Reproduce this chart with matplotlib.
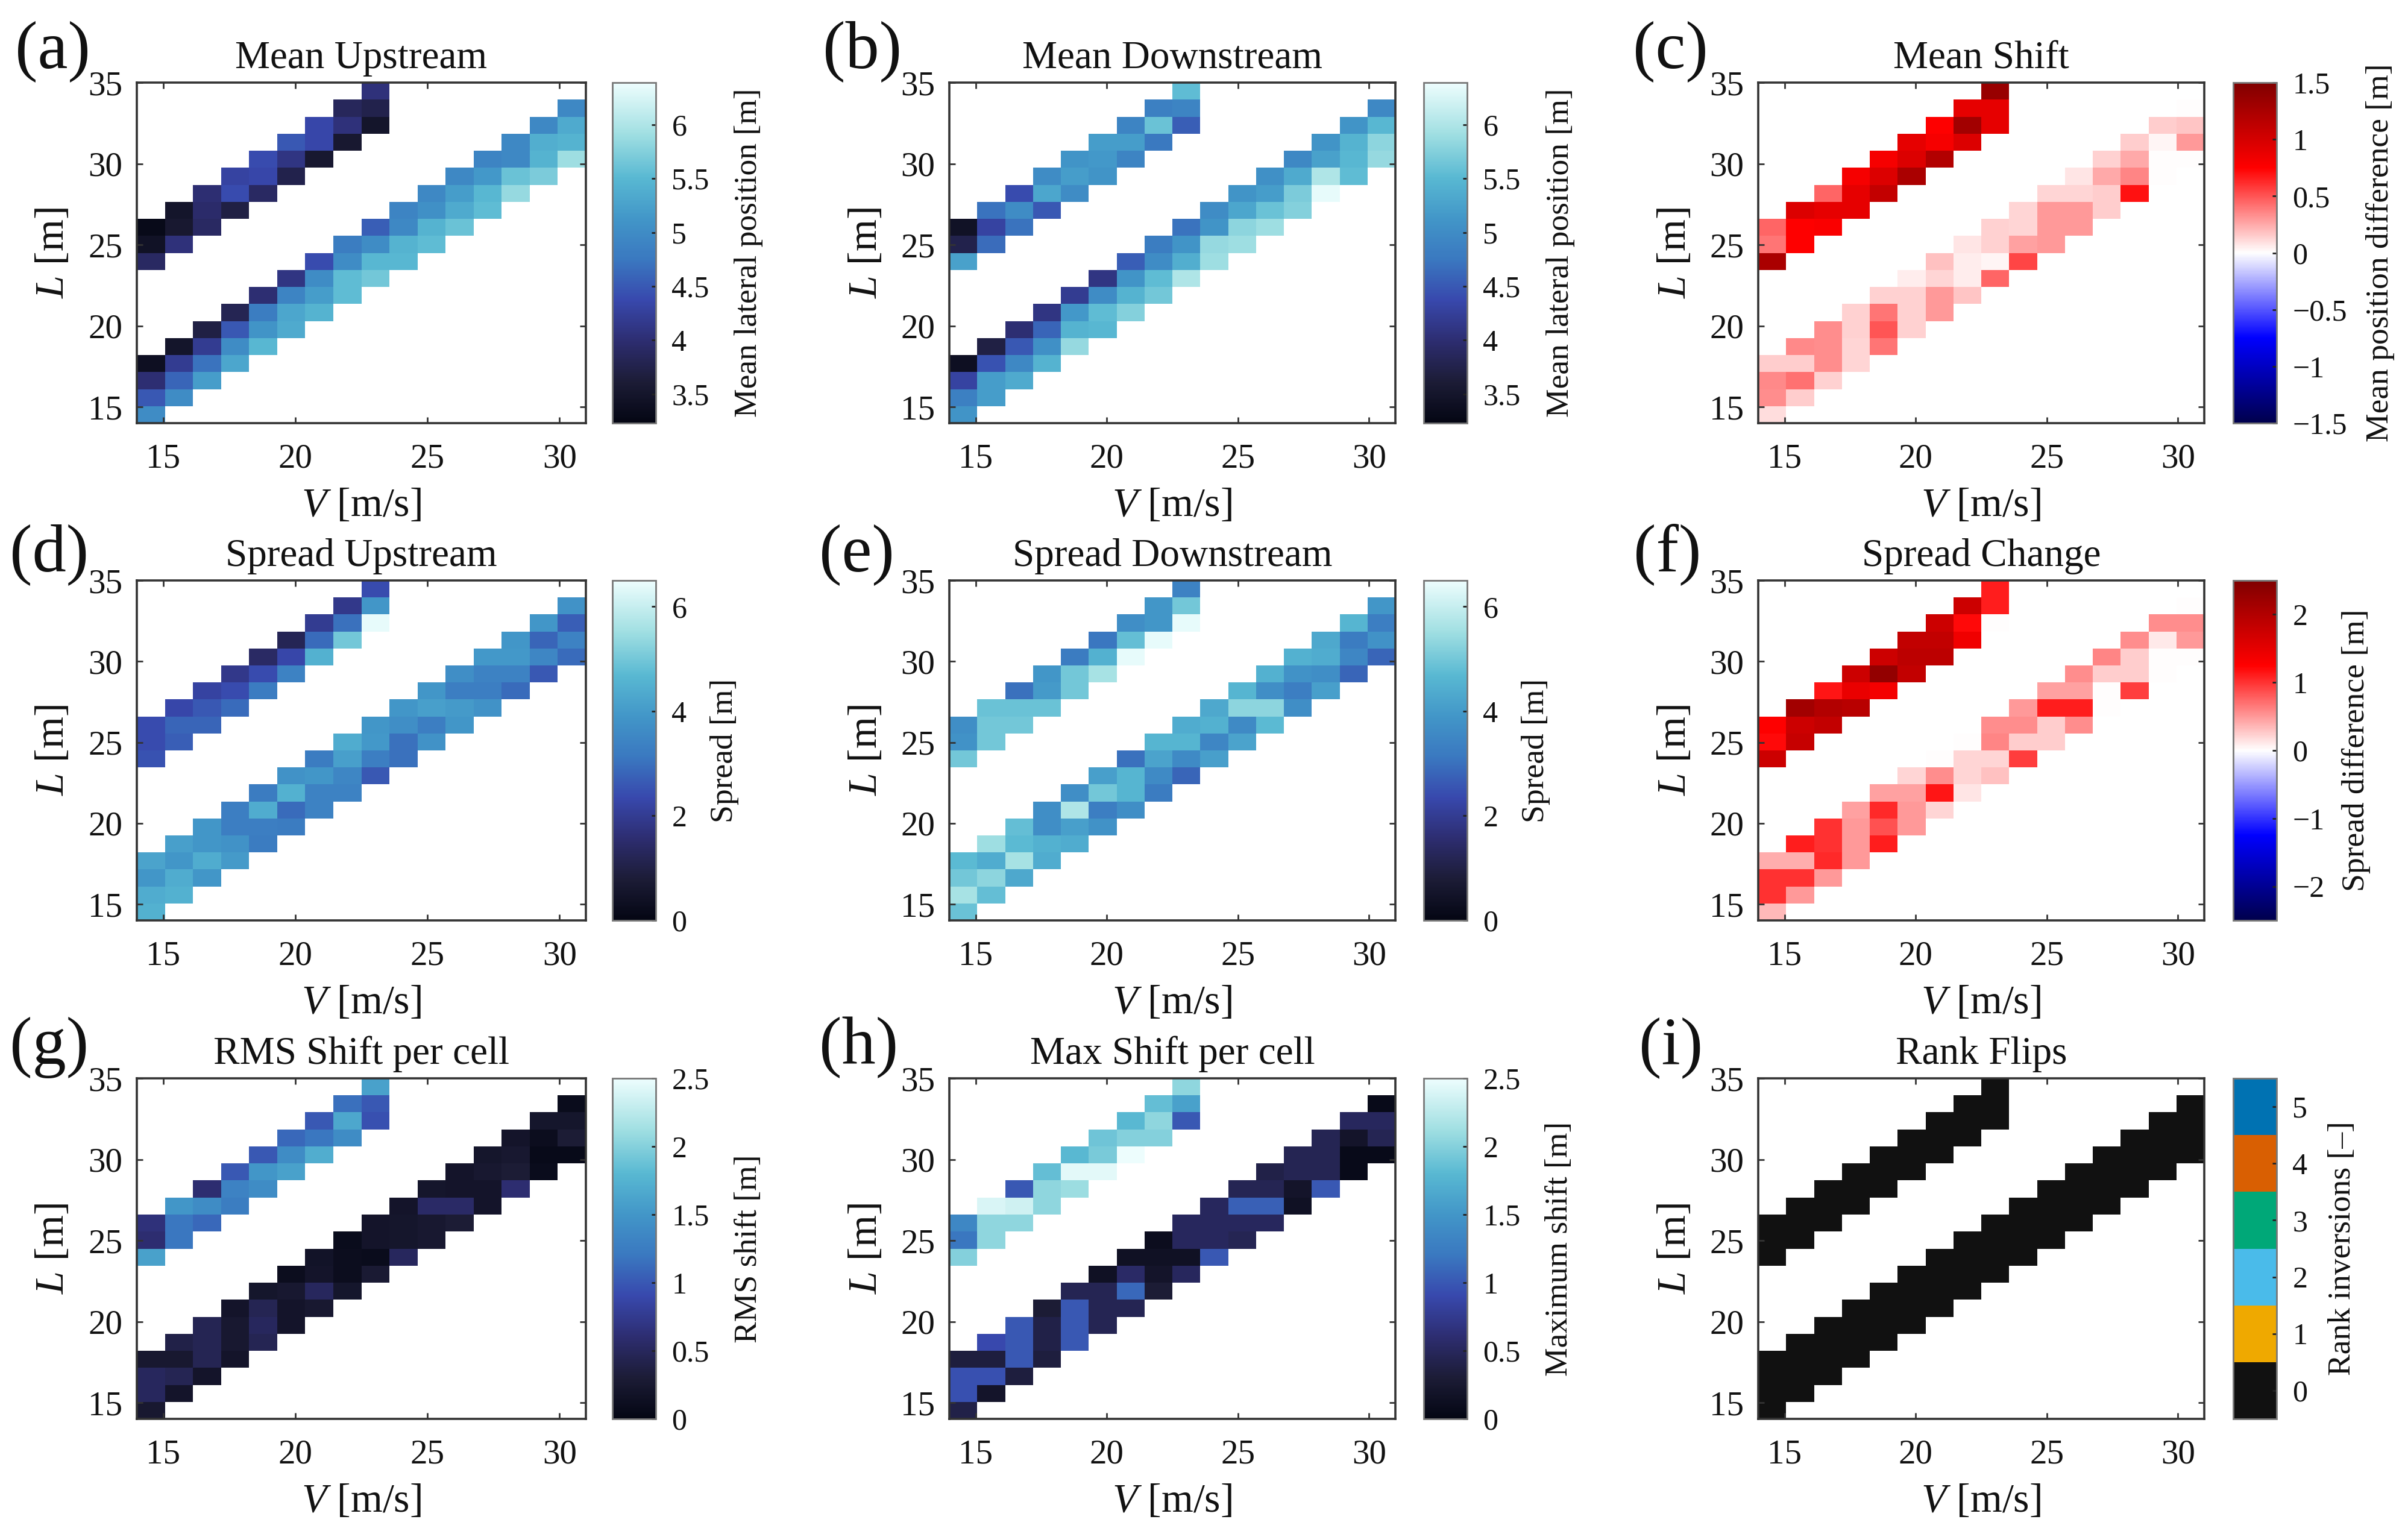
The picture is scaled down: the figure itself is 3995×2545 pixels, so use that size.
import numpy as np
import matplotlib
matplotlib.use('Agg')
import matplotlib.pyplot as plt
from matplotlib.colors import LinearSegmentedColormap, ListedColormap

plt.rcParams['font.family'] = ['Liberation Serif', 'DejaVu Serif']
plt.rcParams['mathtext.fontset'] = 'custom'
plt.rcParams['mathtext.rm'] = 'Liberation Serif'
plt.rcParams['mathtext.it'] = 'Liberation Serif:italic'

# each list is one column (V), cells from bottom to top (L)
mean_up_low = [[5.0,4.5,4.0,3.4],[5.0,4.6,4.2,3.5],[5.2,4.7,4.2,3.7],[5.3,5.0,4.5,3.8],
    [5.5,5.1,4.8,4.0],[5.35,5.3,4.9,4.1],[5.45,5.2,5.0,4.4],[5.55,5.55,5.0,4.8],
    [5.65,5.5,5.0,4.55],[5.5,5.45,4.95,4.9],[5.55,5.45,5.05,4.95],[5.6,5.35,5.2,4.95],
    [5.55,5.5,5.15,4.9],[5.85,5.6,4.95,4.95],[5.7,5.45,5.4,4.95],[5.9,5.45,5.35,4.95]]
mean_up_high = [[3.9,3.45,3.3],[4.05,3.55,3.5],[3.9,3.95,4.0],[3.7,4.4,4.3],[3.9,4.35,4.4],
    [3.75,4.1,4.5],[3.55,4.35,4.35],[3.55,4.05,3.85],[3.5,3.75,4.05]]

mean_down_low = [[5.1,4.85,4.3,3.4],[5.2,5.2,4.45,3.7],[5.35,4.95,4.5,4.0],[5.45,5.05,4.6,4.1],
    [5.85,5.45,5.15,4.2],[5.5,5.55,5.0,4.1],[5.75,5.45,5.1,4.55],[5.65,5.55,5.0,4.8],
    [6.0,5.4,5.1,4.7],[5.9,5.85,5.1,5.0],[5.9,5.8,5.3,5.1],[5.9,5.6,5.2,5.05],
    [5.75,5.7,5.35,4.95],[6.35,6.0,5.25,5.1],[5.55,5.5,5.45,5.1],[5.85,5.8,5.5,4.95]]
mean_down_high = [[5.25,3.75,3.45],[4.65,4.3,4.7],[4.7,5.0,4.4],[4.5,5.3,5.0],[5.0,5.2,5.1],
    [5.1,5.15,5.2],[4.9,5.2,4.9],[4.75,5.6,4.85],[4.55,4.9,5.55]]

mean_shift_low = [[0.1,0.33,0.35,0.15],[0.15,0.42,0.15,0.35],[0.13,0.33,0.33,0.33],[0.12,0.12,0.13,0.13],
    [0.4,0.5,0.4,0.14],[0.13,0.14,0.14,0.05],[0.3,0.3,0.12,0.18],[0.17,0.05,0.05,0.08],
    [0.45,0.03,0.13,0.13],[0.55,0.28,0.12,0.12],[0.3,0.3,0.3,0.12],[0.3,0.3,0.12,0.08],
    [0.15,0.15,0.25,0.13],[0.7,0.36,0.25,0.15],[0.0,0.0,0.03,0.15],[0.0,0.3,0.17,0.0]]
mean_shift_high = [[1.25,0.4,0.45],[0.75,0.75,0.95],[0.78,0.9,0.45],[0.9,0.9,0.8],[1.1,0.95,0.8],
    [1.25,0.95,0.9],[1.2,0.8,0.75],[0.95,1.3,0.9],[0.9,0.9,1.35]]

spread_up_low = [[4.5,4.4,3.9,4.2],[4.5,4.4,3.9,4.1],[3.9,4.4,3.9,3.9],[4.0,3.8,3.3,3.3],
    [3.2,3.3,4.4,3.2],[3.2,2.9,4.5,3.8],[3.4,3.4,3.9,3.2],[3.4,3.5,4.1,4.4],
    [2.6,3.3,3.95,3.9],[3.0,3.0,3.7,3.9],[3.8,3.3,4.1,3.9],[3.9,4.0,3.3,3.7],
    [3.8,3.3,3.4,3.95],[2.9,3.4,3.95,3.9],[2.6,3.5,2.8,3.9],[2.9,3.4,2.7,3.8]]
spread_up_high = [[2.5,2.4,2.4],[2.7,2.8,2.3],[2.8,2.6,2.2],[2.9,2.4,1.9],[3.2,2.4,1.4],
    [3.4,2.3,1.2],[4.5,2.9,2.0],[5.0,3.0,1.9],[6.4,3.9,2.4]]

spread_down_low = [[4.9,5.6,5.0,4.7],[4.8,5.3,4.4,5.5],[4.3,5.6,4.7,4.8],[4.4,4.5,3.7,3.7],
    [4.4,4.1,5.7,3.7],[3.8,3.3,5.0,4.1],[3.7,4.6,4.6,3.0],[3.2,3.6,4.2,4.6],
    [2.8,3.6,4.6,4.4],[4.1,3.5,4.5,4.3],[4.2,3.6,5.3,4.6],[4.7,5.3,3.7,4.5],
    [3.7,3.3,3.8,4.5],[4.1,3.7,4.4,4.3],[2.8,3.5,3.2,4.6],[2.8,3.8,3.3,3.9]]
spread_down_high = [[5.0,3.8,3.7],[5.0,5.0,4.9],[5.0,4.9,3.0],[4.9,4.0,3.9],[5.0,5.0,3.2],
    [5.6,4.5,3.1],[6.4,4.8,3.7],[6.4,3.9,3.9],[6.4,5.0,3.4]]

spread_chg_low = [[0.35,1.0,1.0,0.4],[0.5,1.0,0.4,1.1],[0.5,1.05,1.0,1.0],[0.5,0.5,0.5,0.45],
    [1.1,0.85,1.05,0.45],[0.5,0.5,0.45,0.2],[0.2,1.15,0.55,0.0],[0.12,0.2,0.2,0.0],
    [0.3,0.2,0.6,0.55],[0.95,0.25,0.55,0.5],[0.25,0.25,1.1,0.45],[0.55,1.1,0.45,0.55],
    [0.0,0.0,0.25,0.6],[0.95,0.25,0.25,0.55],[0.0,0.0,0.1,0.55],[0.0,0.5,0.55,0.0]]
spread_chg_high = [[1.75,1.2,1.25],[1.8,1.75,2.15],[1.85,2.0,1.15],[1.95,1.45,1.75],[1.35,2.3,1.75],
    [1.85,1.9,1.85],[1.9,1.85,1.75],[1.4,1.2,1.75],[0.0,1.1,1.1]]

rms_low = [[0.25,0.5,0.5,0.25],[0.2,0.45,0.25,0.4],[0.2,0.45,0.45,0.45],[0.2,0.25,0.25,0.2],
    [0.45,0.5,0.45,0.22],[0.2,0.2,0.25,0.1],[0.25,0.5,0.2,0.18],[0.22,0.1,0.1,0.08],
    [0.28,0.08,0.2,0.2],[0.5,0.22,0.22,0.2],[0.25,0.25,0.55,0.22],[0.3,0.55,0.2,0.2],
    [0.2,0.2,0.25,0.22],[0.6,0.3,0.25,0.2],[0.08,0.05,0.1,0.22],[0.05,0.3,0.22,0.08]]
rms_high = [[1.6,0.6,0.65],[1.2,1.2,1.5],[1.1,1.4,0.6],[1.25,1.3,1.0],[1.4,1.5,1.0],
    [1.6,1.4,1.1],[1.7,1.2,1.0],[1.4,1.65,1.15],[0.95,1.0,1.6]]

max_low = [[0.4,0.95,0.95,0.35],[0.2,0.95,0.35,0.9],[0.35,1.0,1.0,1.0],[0.35,0.4,0.4,0.3],
    [1.0,1.0,1.0,0.45],[0.45,0.45,0.45,0.15],[0.45,1.1,0.55,0.15],[0.3,0.2,0.15,0.1],
    [0.5,0.15,0.5,0.5],[1.0,0.5,0.5,0.5],[0.45,0.5,1.05,0.45],[0.5,1.05,0.45,0.4],
    [0.15,0.2,0.45,0.45],[1.0,0.45,0.45,0.45],[0.05,0.05,0.2,0.5],[0.05,0.45,0.5,0.05]]
max_high = [[2.0,1.2,1.35],[2.05,2.05,2.4],[2.05,2.35,1.0],[2.05,2.05,1.85],[2.1,2.45,1.8],
    [2.45,1.95,1.9],[2.5,2.0,1.8],[2.0,2.05,1.85],[1.0,1.6,2.05]]

flips_low = [[0,0,0,0]]*16
flips_high = [[0,0,0]]*9

titles = ['Mean Upstream','Mean Downstream','Mean Shift','Spread Upstream','Spread Downstream',
          'Spread Change','RMS Shift per cell','Max Shift per cell','Rank Flips']
letters = ['(a)','(b)','(c)','(d)','(e)','(f)','(g)','(h)','(i)']
bar_labels = ['Mean lateral position [m]','Mean lateral position [m]','Mean position difference [m]',
              'Spread [m]','Spread [m]','Spread difference [m]',
              'RMS shift [m]','Maximum shift [m]','Rank inversions [\u2013]']
ticks_mean = [3.5,4,4.5,5,5.5,6]
labs_mean = ['3.5','4','4.5','5','5.5','6']
ticks_spread = [0,2,4,6]
labs_spread = ['0','2','4','6']
ticks_shift = [-1.5,-1,-0.5,0,0.5,1,1.5]
labs_shift = ['\u22121.5','\u22121','\u22120.5','0','0.5','1','1.5']
ticks_chg = [-2,-1,0,1,2]
labs_chg = ['\u22122','\u22121','0','1','2']
ticks_rms = [0,0.5,1,1.5,2,2.5]
labs_rms = ['0','0.5','1','1.5','2','2.5']
ticks_rank = [0,1,2,3,4,5]
labs_rank = ['0','1','2','3','4','5']

ice = LinearSegmentedColormap.from_list('ice2', [(0,'#040613'),(.12,'#1c1c36'),(.24,'#2d2d70'),
    (.36,'#3848ad'),(.48,'#3a78c0'),(.6,'#4296c8'),(.72,'#58b8d2'),(.85,'#a0dfe2'),(1,'#edfdfd')])
rank = ListedColormap(['#111111','#EFA900','#4ABBEA','#00A878','#D95F02','#0072B2'])

W, H = 3995, 2545
ax_x = [(227,972),(1575,2315),(2917,3657)]
ax_y = [(137,702),(963,1527),(1789,2354)]
bar_x = [(1016,1088),(2362,2434),(3705,3777)]
lab_x = [25,1365,2709,16,1359,2710,16,1359,2719]
lab_y = [112,112,112,947,947,947,1765,1765,1765]
bar_lab_x = [1242,2589,3949,1202,2548,3909,1242,2587,3886]

panels = [(mean_up_low,mean_up_high,ice,3.23,6.39,ticks_mean,labs_mean),
          (mean_down_low,mean_down_high,ice,3.23,6.39,ticks_mean,labs_mean),
          (mean_shift_low,mean_shift_high,'seismic',-1.5,1.5,ticks_shift,labs_shift),
          (spread_up_low,spread_up_high,ice,0,6.5,ticks_spread,labs_spread),
          (spread_down_low,spread_down_high,ice,0,6.5,ticks_spread,labs_spread),
          (spread_chg_low,spread_chg_high,'seismic',-2.5,2.5,ticks_chg,labs_chg),
          (rms_low,rms_high,ice,0,2.5,ticks_rms,labs_rms),
          (max_low,max_high,ice,0,2.5,ticks_rms,labs_rms),
          (flips_low,flips_high,rank,-0.5,5.5,ticks_rank,labs_rank)]

v_edges = np.linspace(14,31,17)
l_edges = np.linspace(14,35,21)
EDGE = '#333333'

def make_grid(low, high):
    g = np.full((20,16), np.nan)
    for c,vals in enumerate(low):
        g[c:c+4,c] = vals
    for c,vals in enumerate(high):
        g[c+9:c+12,c] = vals
    return g

def box(x0, x1, y0, y1):
    return [x0/W, 1-y1/H, (x1-x0)/W, (y1-y0)/H]

fig = plt.figure(figsize=(W/100,H/100), dpi=100)
for i,(low,high,cmap,vmin,vmax,ticks,labs) in enumerate(panels):
    row, col = i//3, i%3
    ax = fig.add_axes(box(ax_x[col][0],ax_x[col][1],ax_y[row][0],ax_y[row][1]))
    m = ax.pcolormesh(v_edges,l_edges,make_grid(low,high),cmap=cmap,vmin=vmin,vmax=vmax,
                      edgecolors='none',antialiased=False)
    ax.set_xlim(14,31)
    ax.set_ylim(14,35)
    ax.set_xticks([15,20,25,30])
    ax.set_yticks([15,20,25,30,35])
    ax.tick_params(direction='in',top=True,right=True,length=7,width=2,color=EDGE,labelsize=41,
                   labelcolor='#111111')
    ax.tick_params(axis='x',pad=24)
    ax.tick_params(axis='y',pad=17)
    for s in ax.spines.values():
        s.set_linewidth(2.6)
        s.set_color(EDGE)
    ax.set_title(titles[i],fontsize=47,pad=17,color='#111111')
    ax.set_xlabel(r'$\mathit{V}$ [m/s]',fontsize=49,va='center',color='#111111')
    ax.xaxis.set_label_coords(0.5,-0.243)
    ax.set_ylabel(r'$\mathit{L}$ [m]',fontsize=49,va='center',color='#111111')
    ax.yaxis.set_label_coords(-138/745,0.5)

    cax = fig.add_axes(box(bar_x[col][0],bar_x[col][1],ax_y[row][0],ax_y[row][1]))
    cb = fig.colorbar(m,cax=cax)
    cb.set_ticks(ticks)
    cb.set_ticklabels(labs)
    cb.ax.tick_params(direction='in',length=5,width=2,color='#222222',labelsize=36,pad=19,
                      labelcolor='#111111')
    cb.outline.set_edgecolor('#777777')
    cb.outline.set_linewidth(2)
    cb.ax.minorticks_off()
    fig.text(bar_lab_x[i]/W,1-(ax_y[row][0]+ax_y[row][1])/2/H,bar_labels[i],rotation=90,
             fontsize=38.5,ha='center',va='center',color='#111111')
    fig.text(lab_x[i]/W,1-lab_y[i]/H,letters[i],fontsize=81,ha='left',va='baseline',color='#111111')

fig.savefig('out.png',dpi=100,facecolor='white')
